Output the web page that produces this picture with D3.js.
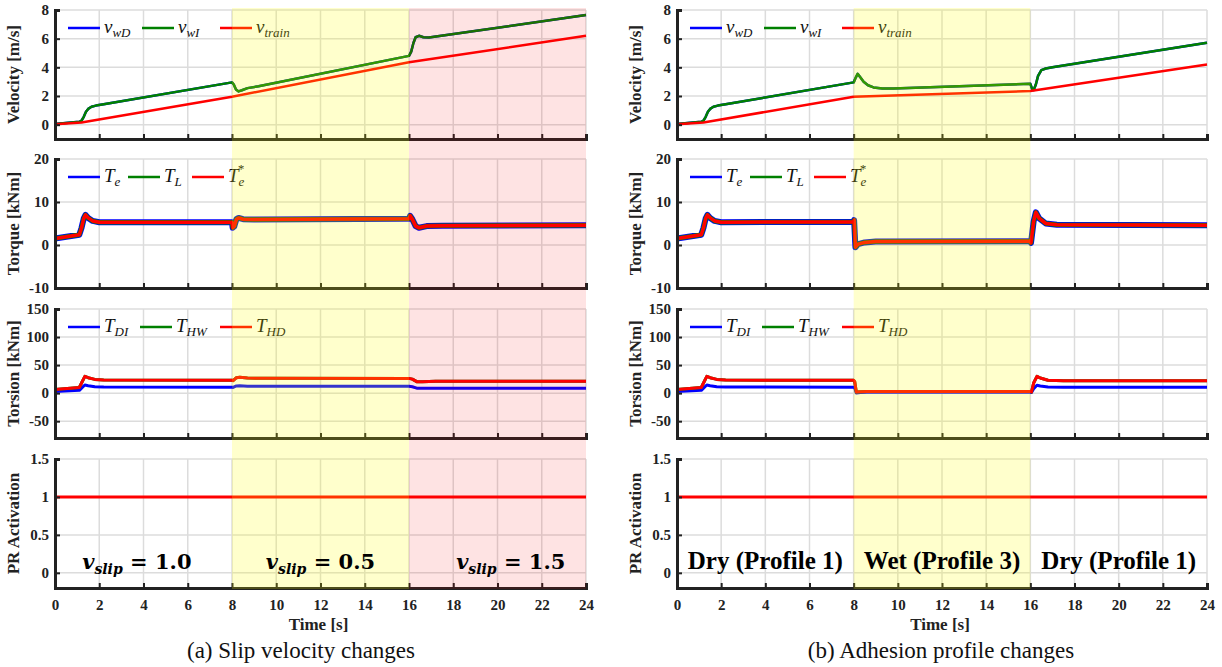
<!DOCTYPE html>
<html>
<head>
<meta charset="utf-8">
<script src="https://cdn.jsdelivr.net/npm/d3@7"></script>
<style>
body { margin: 0; background: #fff; }
svg { display: block; }
.tick text { font-family: "Liberation Serif", "Times New Roman", serif; font-weight: bold; font-size: 15px; fill: #222; }
</style>
</head>
<body>
<svg id="chart" width="1222" height="667"></svg>
<script>
// time axis
var timeTicks = [0, 2, 4, 6, 8, 10, 12, 14, 16, 18, 20, 22, 24];

// (a) slip velocity changes
var vWheelA = [[0,0.05],[1.1,0.2],[1.2,0.28],[1.3,0.55],[1.4,0.9],[1.5,1.1],[1.65,1.25],[1.85,1.33],[2.2,1.42],[8,2.95],[8.08,2.8],[8.18,2.45],[8.3,2.32],[8.45,2.4],[8.7,2.55],[9.2,2.68],[16,4.8],[16.1,5.1],[16.2,5.7],[16.3,6.1],[16.45,6.2],[16.65,6.1],[16.9,6.08],[24,7.65]];
var vTrainA = [[0,0.03],[1.2,0.15],[8,1.95],[16,4.35],[24,6.2]];
var torqueA = [[0,1.5],[1.1,2.4],[1.2,4.0],[1.3,6.2],[1.38,7.0],[1.5,6.3],[1.7,5.6],[2.0,5.3],[8,5.3],[8.03,4.0],[8.1,4.3],[8.2,6.0],[8.3,6.3],[8.5,6.0],[9,5.95],[16,6.1],[16.05,6.8],[16.15,6.0],[16.3,4.4],[16.45,4.0],[16.8,4.4],[17.5,4.5],[24,4.6]];
var torsionHDA = [[0,6.5],[1.1,10],[1.2,18],[1.35,30],[1.5,27.5],[1.8,24.5],[2.2,23.2],[8,23],[8.05,22.3],[8.2,27.5],[8.35,28.2],[8.7,26.8],[9.5,26.5],[16,26.3],[16.15,25],[16.35,20.5],[16.6,20.2],[17.2,21],[24,21]];
var torsionDIA = [[0,3],[1.1,5],[1.2,9],[1.35,14.5],[1.5,13.3],[1.8,11.5],[2.2,10.8],[8,10.5],[8.05,10.2],[8.2,12.8],[8.35,13.2],[8.7,12.4],[16,12.2],[16.15,11.4],[16.35,8.8],[16.6,8.6],[17.2,8.8],[24,8.8]];
var prA = [[0,1],[24,1]];

// (b) adhesion profile changes
var vWheelB = [[0,0.05],[1.1,0.2],[1.2,0.28],[1.3,0.55],[1.4,0.9],[1.5,1.1],[1.65,1.25],[1.85,1.33],[2.2,1.42],[8,2.95],[8.1,3.3],[8.18,3.55],[8.3,3.3],[8.45,3.0],[8.65,2.75],[8.9,2.6],[9.3,2.53],[9.8,2.52],[16,2.85],[16.08,2.5],[16.15,2.42],[16.25,2.8],[16.35,3.4],[16.5,3.8],[16.7,3.92],[17,4.0],[24,5.72]];
var vTrainB = [[0,0.03],[1.2,0.15],[8,1.95],[16,2.35],[24,4.2]];
var torqueB = [[0,1.5],[1.1,2.4],[1.2,4.0],[1.3,6.2],[1.38,7.0],[1.5,6.3],[1.7,5.6],[2.0,5.3],[8,5.4],[8.02,5.8],[8.08,-0.5],[8.2,0.2],[8.5,0.6],[9,0.8],[16,0.9],[16.03,0.5],[16.15,5.5],[16.25,7.6],[16.4,6.2],[16.7,5.0],[17.2,4.7],[24,4.6]];
var torsionHDB = [[0,6.5],[1.1,10],[1.2,18],[1.35,30],[1.5,27.5],[1.8,24.5],[2.2,23.2],[8,23],[8.05,20],[8.12,2],[8.3,2.5],[8.6,3],[16,3],[16.05,2],[16.15,18],[16.3,30],[16.45,27],[16.8,23],[17.5,22],[24,22]];
var torsionDIB = [[0,3],[1.1,5],[1.2,9],[1.35,14.5],[1.5,13.3],[1.8,11.5],[2.2,10.8],[8,10.5],[8.05,9],[8.12,0.2],[8.3,1],[8.6,1.5],[16,1.5],[16.05,1],[16.15,8],[16.3,14.2],[16.45,12.8],[16.8,11],[17.5,10.5],[24,10.5]];
var prB = [[0,1],[24,1]];

// regions and labels
var shadeA = [{from: 8, to: 16, color: "rgba(255,255,0,0.2)"}, {from: 16, to: 24, color: "rgba(245,0,0,0.11)"}];
var shadeB = [{from: 8, to: 16, color: "rgba(255,255,0,0.2)"}];
var notesA = [{t: 3.7, sub: "1.0"}, {t: 12, sub: "0.5"}, {t: 20.6, sub: "1.5"}];
var notesB = [{t: 4, text: "Dry (Profile 1)"}, {t: 12, text: "Wet (Profile 3)"}, {t: 20, text: "Dry (Profile 1)"}];

var svg = d3.select("#chart");
var panelTops = [10, 159, 309, 459], panelH = 129;
var serif = "Liberation Serif, Times New Roman, serif";

var rows = [
    { label: "Velocity [m/s]", domain: [-1, 8], ticks: [0, 2, 4, 6, 8], offsets: [13, 87, 165] },
    { label: "Torque [kNm]", domain: [-10, 20], ticks: [-10, 0, 10, 20], offsets: [13, 73, 137] },
    { label: "Torsion [kNm]", domain: [-80, 150], ticks: [-50, 0, 50, 100, 150], offsets: [13, 85, 165] },
    { label: "PR Activation", domain: [-0.2, 1.5], ticks: [0, 0.5, 1, 1.5], offsets: null }
];

var legends = [
    [{c: "blue", b: "v", s: "wD"}, {c: "green", b: "v", s: "wI"}, {c: "red", b: "v", s: "train"}],
    [{c: "blue", b: "T", s: "e"}, {c: "green", b: "T", s: "L"}, {c: "red", b: "T", s: "e", sup: "*"}],
    [{c: "blue", b: "T", s: "DI"}, {c: "green", b: "T", s: "HW"}, {c: "red", b: "T", s: "HD"}]
];

function drawColumn(x0, x1, series, shades, caption, captionX, notes, isSlip) {
    var x = d3.scaleLinear().domain([0, 24]).range([x0, x1]);
    var g = svg.append("g");
    var yPR;

    rows.forEach(function (row, i) {
        var top = panelTops[i];
        var y = d3.scaleLinear().domain(row.domain).range([top + panelH, top]);
        if (i === 3) yPR = y;
        var p = g.append("g");

        // grid
        p.selectAll(".gx").data(timeTicks).enter().append("line")
            .attr("x1", function (d) { return x(d); }).attr("x2", function (d) { return x(d); })
            .attr("y1", top).attr("y2", top + panelH)
            .attr("stroke", "#dcdcdc").attr("stroke-width", 1.5);
        p.selectAll(".gy").data(row.ticks).enter().append("line")
            .attr("x1", x0).attr("x2", x1)
            .attr("y1", function (d) { return y(d); }).attr("y2", function (d) { return y(d); })
            .attr("stroke", "#dcdcdc").attr("stroke-width", 1.5);

        var line = d3.line()
            .x(function (d) { return x(d[0]); })
            .y(function (d) { return y(d[1]); });

        series[i].forEach(function (s) {
            p.append("path").datum(s.data).attr("d", line)
                .attr("fill", "none").attr("stroke", s.color)
                .attr("stroke-width", s.w).attr("stroke-linejoin", "round");
        });

        // axes
        var yAxis = d3.axisLeft(y).tickValues(row.ticks).tickSize(-5).tickPadding(6)
            .tickFormat(function (d) { return d; });
        var ya = p.append("g").attr("transform", "translate(" + x0 + ",0)").call(yAxis);
        var xAxis = d3.axisBottom(x).tickValues(timeTicks).tickSize(-5).tickPadding(11);
        var xa = p.append("g").attr("transform", "translate(0," + (top + panelH) + ")").call(xAxis);
        if (i < 3) xa.selectAll("text").remove();
        [ya, xa].forEach(function (a) {
            a.select(".domain").attr("stroke", "#222").attr("stroke-width", 3);
            a.selectAll(".tick line").attr("stroke", "#222").attr("stroke-width", 2);
        });

        // y label
        p.append("text")
            .attr("transform", "translate(" + (x0 - 36) + "," + (top + panelH / 2) + ") rotate(-90)")
            .attr("text-anchor", "middle")
            .style("font-family", serif).style("font-weight", "bold")
            .style("font-size", "17px").attr("fill", "#222")
            .text(row.label);

        // legend
        if (row.offsets) {
            var ly = top + 18;
            legends[i].forEach(function (e, k) {
                var lx = x0 + row.offsets[k];
                p.append("line").attr("x1", lx).attr("x2", lx + 32).attr("y1", ly).attr("y2", ly)
                    .attr("stroke", e.c).attr("stroke-width", 2.5);
                var t = p.append("text").attr("x", lx + 36).attr("y", ly + 5)
                    .style("font-family", serif).style("font-style", "italic")
                    .style("font-size", "19px").attr("fill", "#111");
                t.append("tspan").text(e.b);
                t.append("tspan").attr("dy", 4).style("font-size", "13px").text(e.s);
                if (e.sup) t.append("tspan").attr("dx", -7).attr("dy", -13).style("font-size", "13px").text(e.sup);
            });
        }
    });

    // shaded regions on top of the plots
    shades.forEach(function (s) {
        g.append("rect")
            .attr("x", x(s.from)).attr("width", x(s.to) - x(s.from))
            .attr("y", panelTops[0] - 2).attr("height", panelTops[3] + panelH + 3 - panelTops[0])
            .attr("fill", s.color);
    });

    // region notes in the PR panel
    notes.forEach(function (n) {
        var t = g.append("text").attr("x", x(n.t)).attr("y", yPR(0) - 4)
            .attr("text-anchor", "middle").attr("fill", "#000")
            .style("font-family", isSlip ? "DejaVu Serif, serif" : serif)
            .style("font-weight", "bold").style("font-size", isSlip ? "21px" : "25px");
        if (isSlip) {
            t.append("tspan").style("font-style", "italic").text("v");
            t.append("tspan").style("font-style", "italic").style("font-size", "14px").attr("dy", 5).text("slip");
            t.append("tspan").attr("dy", -5).text(" = " + n.sub);
        } else {
            t.text(n.text);
        }
    });

    g.append("text").attr("x", (x0 + x1) / 2 - 2).attr("y", 630).attr("text-anchor", "middle")
        .style("font-family", serif).style("font-weight", "bold")
        .style("font-size", "17px").attr("fill", "#222").text("Time [s]");
    g.append("text").attr("x", captionX).attr("y", 658).attr("text-anchor", "middle")
        .style("font-family", serif)
        .style("font-size", "23px").attr("fill", "#111").text(caption);
}

function seriesFor(vWheel, vTrain, torque, thd, tdi, pr) {
    return [
        [{data: vWheel, color: "blue", w: 2.5}, {data: vWheel, color: "green", w: 2.5}, {data: vTrain, color: "red", w: 2.5}],
        [{data: torque, color: "blue", w: 6}, {data: torque, color: "green", w: 4.5}, {data: torque, color: "red", w: 3.5}],
        [{data: tdi, color: "blue", w: 3}, {data: thd, color: "green", w: 3}, {data: thd, color: "red", w: 3}],
        [{data: pr, color: "red", w: 3}]
    ];
}

drawColumn(55, 586, seriesFor(vWheelA, vTrainA, torqueA, torsionHDA, torsionDIA, prA), shadeA,
    "(a) Slip velocity changes", 301, notesA, true);
drawColumn(677, 1207, seriesFor(vWheelB, vTrainB, torqueB, torsionHDB, torsionDIB, prB), shadeB,
    "(b) Adhesion profile changes", 941, notesB, false);
</script>
</body>
</html>
